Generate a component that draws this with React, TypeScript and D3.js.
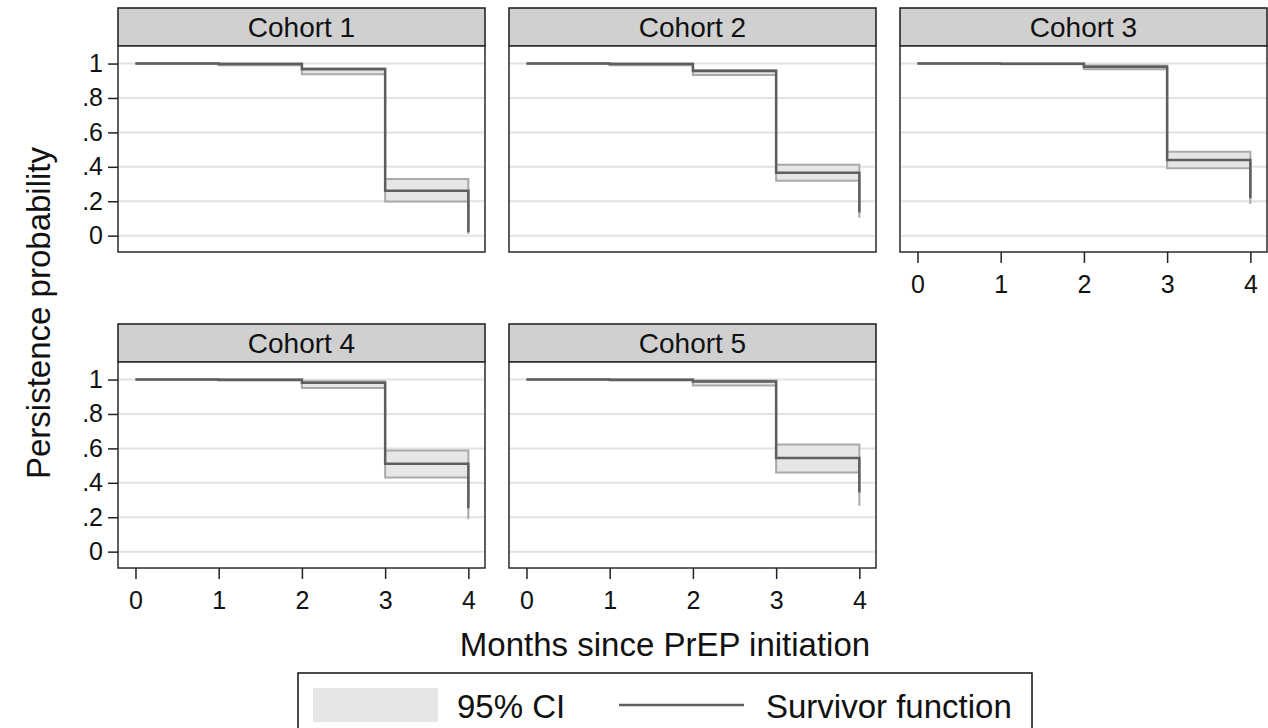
import React, { useEffect, useRef } from 'react';
import * as d3 from 'd3';

const cohorts = ['Cohort 1', 'Cohort 2', 'Cohort 3', 'Cohort 4', 'Cohort 5'];
const months = [0, 1, 2, 3, 4];

// survivor function and 95% CI bounds at each month, one row per cohort
const survival = [
  [1, 0.997, 0.967, 0.261, 0.02],
  [1, 0.997, 0.957, 0.366, 0.135],
  [1, 0.999, 0.981, 0.439, 0.217],
  [1, 0.999, 0.981, 0.511, 0.252],
  [1, 0.999, 0.988, 0.544, 0.344],
];
const ciLower = [
  [1, 0.99, 0.938, 0.199, 0.01],
  [1, 0.99, 0.934, 0.319, 0.104],
  [1, 0.996, 0.967, 0.391, 0.184],
  [1, 0.995, 0.951, 0.431, 0.188],
  [1, 0.995, 0.965, 0.46, 0.266],
];
const ciUpper = [
  [1, 1, 0.972, 0.329, 0.04],
  [1, 1, 0.963, 0.412, 0.17],
  [1, 1, 0.988, 0.487, 0.25],
  [1, 1, 0.99, 0.588, 0.31],
  [1, 1, 0.995, 0.623, 0.42],
];

const yTicks = [0, 0.2, 0.4, 0.6, 0.8, 1];
const yTickLabels = ['0', '.2', '.4', '.6', '.8', '1'];
const xTicks = [0, 1, 2, 3, 4];

const legendLabels = ['95% CI', 'Survivor function'];

const FONT = '"Liberation Sans", Arial, sans-serif';

const App = () => {
  const ref = useRef<SVGSVGElement | null>(null);

  useEffect(() => {
    const svg = d3.select(ref.current);
    svg.selectAll('*').remove();

    const panelW = 367;
    const headerH = 38;
    const plotH = 206;

    cohorts.forEach((name, i) => {
      const col = i % 3;
      const row = Math.floor(i / 3);
      const left = 118 + col * 391;
      const top = 8 + row * 316;
      const plotTop = top + headerH;
      const plotBottom = plotTop + plotH;

      const x = d3.scaleLinear().domain([-0.21, 4.2]).range([left, left + panelW]);
      const y = d3.scaleLinear().domain([-0.095, 1.102]).range([plotBottom, plotTop]);

      const g = svg.append('g');

      // header strip
      g.append('rect')
        .attr('x', left).attr('y', top)
        .attr('width', panelW).attr('height', headerH)
        .attr('fill', '#d0d0d0')
        .attr('stroke', '#1a1a1a').attr('stroke-width', 1.5);
      g.append('text')
        .attr('x', left + panelW / 2).attr('y', top + 29)
        .attr('text-anchor', 'middle')
        .style('font-family', FONT).style('font-size', '28px')
        .attr('fill', '#111')
        .text(name);

      g.append('rect')
        .attr('x', left).attr('y', plotTop)
        .attr('width', panelW).attr('height', plotH)
        .attr('fill', '#fff');

      // grid
      g.selectAll('.grid')
        .data(yTicks)
        .enter().append('line')
        .attr('x1', left).attr('x2', left + panelW)
        .attr('y1', (d) => y(d)).attr('y2', (d) => y(d))
        .attr('stroke', '#e2e2e2').attr('stroke-width', 2);

      const pts = months.map((m, k) => ({ m, s: survival[i][k], lo: ciLower[i][k], hi: ciUpper[i][k] }));

      const band = d3.area<any>()
        .curve(d3.curveStepAfter)
        .x((d) => x(d.m))
        .y0((d) => y(d.lo))
        .y1((d) => y(d.hi));
      g.append('path').attr('d', band(pts)).attr('fill', '#e6e6e6');

      const hiLine = d3.line<any>().curve(d3.curveStepAfter).x((d) => x(d.m)).y((d) => y(d.hi));
      const loLine = d3.line<any>().curve(d3.curveStepAfter).x((d) => x(d.m)).y((d) => y(d.lo));
      g.append('path').attr('d', hiLine(pts)).attr('fill', 'none').attr('stroke', '#a9a9a9').attr('stroke-width', 2);
      g.append('path').attr('d', loLine(pts)).attr('fill', 'none').attr('stroke', '#a9a9a9').attr('stroke-width', 2);

      const sLine = d3.line<any>().curve(d3.curveStepAfter).x((d) => x(d.m)).y((d) => y(d.s));
      g.append('path').attr('d', sLine(pts)).attr('fill', 'none').attr('stroke', '#5e5e5e').attr('stroke-width', 2.5);

      g.append('rect')
        .attr('x', left).attr('y', plotTop)
        .attr('width', panelW).attr('height', plotH)
        .attr('fill', 'none')
        .attr('stroke', '#2a2a2a').attr('stroke-width', 1.5);

      // y axis on first column
      if (col === 0) {
        const yAxis = d3.axisLeft(y)
          .tickValues(yTicks)
          .tickSize(10)
          .tickPadding(5)
          .tickFormat((d, k) => yTickLabels[k]);
        const ga = g.append('g').attr('transform', `translate(${left},0)`).call(yAxis);
        ga.select('.domain').remove();
        ga.selectAll('line').attr('stroke', '#222').attr('stroke-width', 1.5);
        ga.selectAll('text').style('font-family', FONT).style('font-size', '25px').attr('fill', '#111');
      }

      // x axis on bottom panel of each column
      if (row === 1 || col === 2) {
        const xAxis = d3.axisBottom(x)
          .tickValues(xTicks)
          .tickSize(11)
          .tickPadding(12)
          .tickFormat(d3.format('d'));
        const ga = g.append('g').attr('transform', `translate(0,${plotBottom})`).call(xAxis);
        ga.select('.domain').remove();
        ga.selectAll('line').attr('stroke', '#222').attr('stroke-width', 1.5);
        ga.selectAll('text').style('font-family', FONT).style('font-size', '25px').attr('fill', '#111');
      }
    });

    // axis titles
    svg.append('text')
      .attr('transform', 'translate(50,313) rotate(-90)')
      .attr('text-anchor', 'middle')
      .style('font-family', FONT).style('font-size', '33px')
      .attr('fill', '#111')
      .text('Persistence probability');

    svg.append('text')
      .attr('x', 665).attr('y', 656)
      .attr('text-anchor', 'middle')
      .style('font-family', FONT).style('font-size', '33px')
      .attr('fill', '#111')
      .text('Months since PrEP initiation');

    // legend
    const lg = svg.append('g');
    lg.append('rect')
      .attr('x', 298).attr('y', 673)
      .attr('width', 734).attr('height', 80)
      .attr('fill', '#fff')
      .attr('stroke', '#111').attr('stroke-width', 1.5);
    lg.append('rect')
      .attr('x', 313).attr('y', 688)
      .attr('width', 125).attr('height', 34)
      .attr('fill', '#e6e6e6');
    lg.append('text')
      .attr('x', 457).attr('y', 718)
      .style('font-family', FONT).style('font-size', '33px')
      .attr('fill', '#111')
      .text(legendLabels[0]);
    lg.append('line')
      .attr('x1', 619).attr('x2', 744)
      .attr('y1', 705).attr('y2', 705)
      .attr('stroke', '#5e5e5e').attr('stroke-width', 2.5);
    lg.append('text')
      .attr('x', 766).attr('y', 718)
      .style('font-family', FONT).style('font-size', '33px')
      .attr('fill', '#111')
      .text(legendLabels[1]);
  }, []);

  return (
    <svg
      ref={ref}
      width={1268}
      height={728}
      style={{ position: 'absolute', left: 0, top: 0, background: '#fff' }}
    />
  );
};

export default App;
